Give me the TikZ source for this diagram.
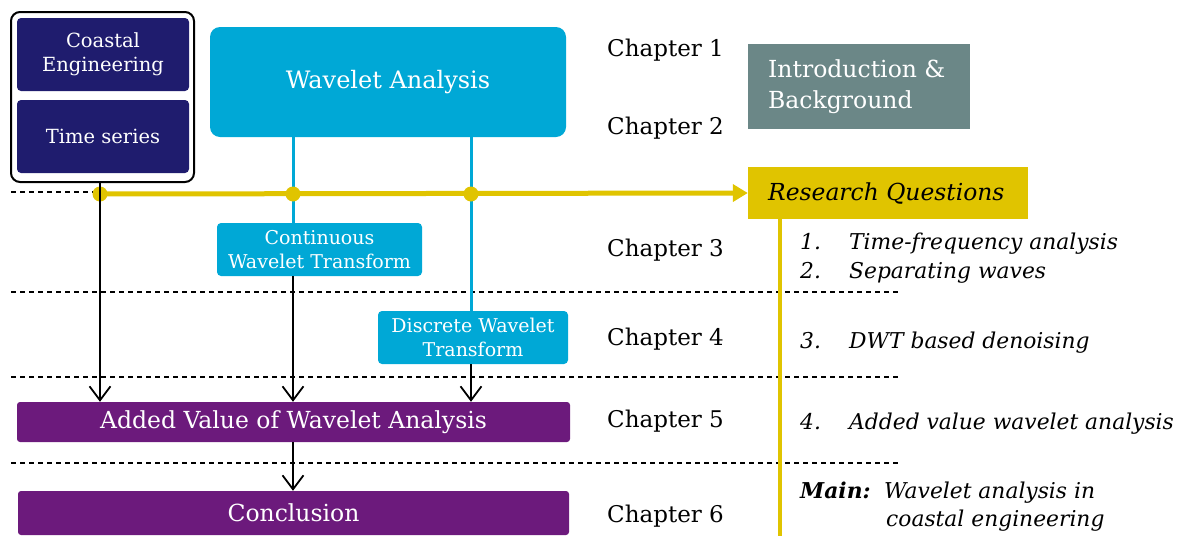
\documentclass[tikz,border=0pt]{standalone}
\usepackage{fontspec}
\setmainfont{DejaVu Serif}
\usetikzlibrary{arrows.meta}
\definecolor{navy}{RGB}{31,28,110}
\definecolor{cyanbox}{RGB}{0,168,214}
\definecolor{graybox}{RGB}{107,135,135}
\definecolor{goldbar}{RGB}{224,196,0}
\definecolor{purplebox}{RGB}{108,26,124}
\tikzset{
  box/.style={inner sep=0pt, align=center, text=white},
  navybox/.style={box, fill=navy, rounded corners=4pt, minimum width=172pt, minimum height=73pt,
    font=\fontsize{19.5}{24}\selectfont},
  cyanrect/.style={box, fill=cyanbox, rounded corners=4pt, font=\fontsize{19}{23.5}\selectfont},
  purplerect/.style={box, fill=purplebox, rounded corners=3pt, font=\fontsize{23.5}{26}\selectfont},
  chap/.style={anchor=west, inner sep=0pt, font=\fontsize{23}{26}\selectfont},
  rq/.style={anchor=base west, inner sep=0pt, font=\fontsize{21.8}{26}\itshape},
  dashline/.style={black, line width=1.1pt, dash pattern=on 5pt off 4pt},
  flow/.style={black, line width=1.8pt, -{Straight Barb[length=14pt,width=21pt,line width=1.8pt]}},
  bluebar/.style={draw=cyanbox, line width=3pt},
  yellowbar/.style={draw=goldbar, line width=5pt},
  joint/.style={circle, fill=goldbar, inner sep=0pt, minimum size=15pt},
}
\begin{document}
\begin{tikzpicture}[x=1pt,y=-1pt]
\useasboundingbox (0,0) rectangle (1179,536);

% left group
\node[draw=black, line width=2pt, rounded corners=9pt, minimum width=183pt, minimum height=170pt, inner sep=0pt] (grp) at (102.5,97) {};
\node[navybox] (coast) at (103,54.5) {Coastal\\Engineering};
\node[navybox] (tseries) at (103,136.5) {Time series};

% main method boxes
\node[cyanrect, rounded corners=10pt, minimum width=356pt, minimum height=110pt, font=\fontsize{24}{28}\selectfont] (wa) at (388,82) {Wavelet Analysis};
\node[cyanrect, minimum width=205pt, minimum height=53pt] (cwt) at (319.5,249.5) {Continuous\\Wavelet Transform};
\node[cyanrect, minimum width=190pt, minimum height=53pt] (dwt) at (473,337.5) {Discrete Wavelet\\Transform};
\node[purplerect, minimum width=553pt, minimum height=40pt] (av) at (293.5,422) {Added Value of Wavelet Analysis};
\node[purplerect, minimum width=551pt, minimum height=44pt] (concl) at (293.5,513) {Conclusion};

% chapter labels
\node[chap] (c1) at (607,50) {Chapter 1};
\node[chap] (c2) at (607,128) {Chapter 2};
\node[chap] (c3) at (607,250) {Chapter 3};
\node[chap] (c4) at (607,339) {Chapter 4};
\node[chap] (c5) at (607,421) {Chapter 5};
\node[chap] (c6) at (607,516) {Chapter 6};

% introduction and research questions
\node[fill=graybox, minimum width=222pt, minimum height=85pt, inner sep=0pt] (intro) at (859,86.5) {};
\node[anchor=west, inner sep=0pt, text=white, align=left, font=\fontsize{23.5}{31}\selectfont] (introtxt) at (768,86.5) {Introduction \&\\Background};
\node[fill=goldbar, minimum width=280pt, minimum height=52pt, inner sep=0pt] (rqbox) at (888,193) {};
\node[anchor=west, inner sep=0pt, font=\fontsize{23.4}{26}\itshape] (rqtxt) at (768,193) {Research Questions};

% junction points on the yellow line
\coordinate (j1) at (100,194);
\coordinate (j2) at (293,194);
\coordinate (j3) at (471,194);
\coordinate (dstart) at (11,192);

% dashed chapter separators
\coordinate (s1a) at (11,292); \coordinate (s1b) at (900,292);
\coordinate (s2a) at (11,377); \coordinate (s2b) at (900,377);
\coordinate (s3a) at (11,463); \coordinate (s3b) at (900,463);
\draw[dashline] (dstart) -- (j1 |- dstart);
\draw[dashline] (s1a) -- (s1b);
\draw[dashline] (s2a) -- (s2b);
\draw[dashline] (s3a) -- (s3b);

% blue branches
\draw[bluebar] (wa.south -| j2) -- (cwt.north -| j2);
\draw[bluebar] (wa.south -| j3) -- (dwt.north -| j3);

% yellow line and research question bar
\coordinate (ybottom) at (780,536);
\draw[yellowbar, -{Triangle[length=15pt,width=17pt]}] (j1) -- (rqbox.west);
\draw[draw=goldbar, line width=4pt] (rqbox.south -| ybottom) -- (ybottom);
\node[joint] at (j1) {};
\node[joint] at (j2) {};
\node[joint] at (j3) {};

% flow arrows
\draw[flow] (grp.south -| j1) -- (av.north -| j1);
\draw[flow] (cwt.south -| j2) -- (av.north -| j2);
\draw[flow] (dwt.south -| j3) -- (av.north -| j3);
\draw[flow] (av.south -| j2) -- (concl.north -| j2);

% research question list
\node[rq] (n1) at (800,249) {1.};
\node[rq] (q1) at (849,249) {Time-frequency analysis};
\node[rq] (n2) at (800,278) {2.};
\node[rq] (q2) at (849,278) {Separating waves};
\node[rq] (n3) at (800,348) {3.};
\node[rq] (q3) at (849,348) {DWT based denoising};
\node[rq] (n4) at (800,429) {4.};
\node[rq] (q4) at (849,429) {Added value wavelet analysis};
\node[rq] (mainlbl) at (800,498) {\bfseries Main:};
\node[rq] (m1) at (884,498) {Wavelet analysis in};
\node[rq] (m2) at (886,526) {coastal engineering};
\end{tikzpicture}
\end{document}
